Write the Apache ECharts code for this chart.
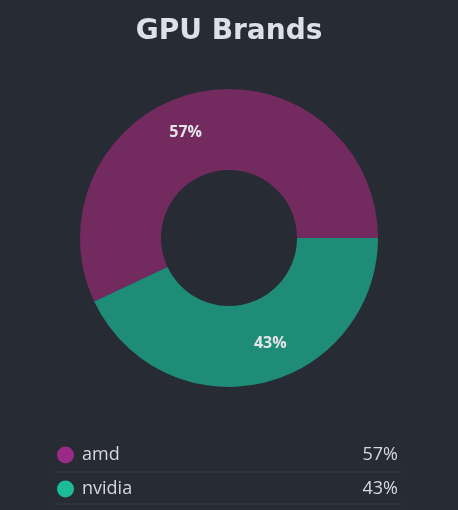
<!DOCTYPE html>
<html>
<head>
<meta charset="utf-8">
<script src="https://cdn.jsdelivr.net/npm/echarts@6/dist/echarts.min.js"></script>
<style>
html,body{margin:0;padding:0;background:#272b33;}
#c{width:458px;height:510px;}
</style>
</head>
<body>
<div id="c"></div>
<script>
const categories = ['amd', 'nvidia'];
const values = [57, 43];
const sliceColors = ['#722a5f', '#1f8c78'];
const dotColors = ['#9a2a87', '#1dbc98'];
const labelOffsets = [[-19, 3], [17, -3]];

const chart = echarts.init(document.getElementById('c'));
const total = values.reduce((a, b) => a + b, 0);
const pct = {};
categories.forEach((c, i) => { pct[c] = Math.round(values[i] / total * 100); });

chart.setOption({
  backgroundColor: '#272b33',
  title: {
    text: 'GPU Brands',
    left: 'center',
    top: 13,
    textStyle: { color: '#dde0e6', fontFamily: 'DejaVu Sans', fontWeight: 'bold', fontSize: 28 }
  },
  legend: {
    orient: 'vertical',
    left: 52,
    top: 439,
    icon: 'circle',
    itemWidth: 17,
    itemHeight: 17,
    itemGap: 12,
    selectedMode: false,
    data: categories.map((c, i) => ({ name: c, itemStyle: { color: dotColors[i] } })),
    formatter: name => `{n|${name}}{v|${pct[name]}%}`,
    textStyle: {
      color: '#d6d8dc',
      fontFamily: 'Open Sans',
      fontSize: 18,
      lineHeight: 22,
      rich: {
        n: { width: 274, padding: [0, 0, 0, 3], fontSize: 18, color: '#d6d8dc', fontFamily: 'Open Sans' },
        v: { width: 42, align: 'right', fontSize: 18, color: '#d6d8dc', fontFamily: 'Open Sans' }
      }
    }
  },
  graphic: [
    { type: 'line', shape: { x1: 53, y1: 472, x2: 403, y2: 472 }, style: { stroke: '#373b44', lineWidth: 1 } },
    { type: 'line', shape: { x1: 53, y1: 504, x2: 403, y2: 504 }, style: { stroke: '#373b44', lineWidth: 1 } }
  ],
  series: [{
    type: 'pie',
    center: [229, 238],
    radius: [68, 149],
    startAngle: 0,
    clockwise: false,
    silent: true,
    labelLine: { show: false },
    label: {
      show: true,
      position: 'inside',
      formatter: '{d}%',
      color: '#e4e4e8',
      fontFamily: 'Open Sans',
      fontWeight: 'bold',
      fontSize: 16
    },
    data: categories.map((c, i) => ({
      name: c,
      value: values[i],
      itemStyle: { color: sliceColors[i], borderWidth: 0 },
      label: { offset: labelOffsets[i] }
    }))
  }]
});
</script>
</body>
</html>
